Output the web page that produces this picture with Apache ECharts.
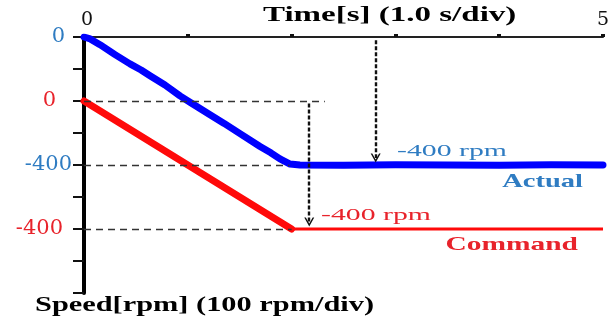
<!DOCTYPE html>
<html><head><meta charset="utf-8">
<script src="https://cdn.jsdelivr.net/npm/echarts@6/dist/echarts.min.js"></script>
<style>html,body{margin:0;padding:0;background:#fff}#c{width:613px;height:324px}</style>
</head><body><div id="c"></div>
<script>
// ---- data ----
const timeTickLabels = { 0: '0', 5: '5' };
const actualTime  = [0, 0.06, 0.154, 0.299, 0.443, 0.55, 0.636, 0.78, 0.925, 1.021, 1.214, 1.35, 1.503, 1.696, 1.8, 1.888, 1.985, 2.08, 2.5, 3.0, 3.5, 4.0, 4.5, 5.0];
const actualSpeed = [0, -6, -24, -55, -84, -103, -121, -150, -184, -204, -243, -270, -302, -342, -362, -381, -397, -400, -401, -399, -400, -401, -399, -400];
const commandRampTime  = [0, 2.0];
const commandRampSpeed = [0, -400];
const commandHoldTime  = [2.0, 5.0];
const commandHoldSpeed = [-400, -400];
const actualAxisLabels  = { '0': '0', '-400': '-400' };
const commandAxisLabels = { '0': '0', '-400': '-400' };
const actualTargetSpeed = -400;
const commandTargetSpeed = -400;
const actualArrowTime = 2.81;
const commandArrowTime = 2.17;
const commandZeroGuideEnd = 2.32;
const actualGuideEnd = 1.98;
const commandGuideEnd = 2.0;

const BLUE = '#0000ff', RED = '#ff0a0a';
const BLUE_TXT = '#2f7cc2', RED_TXT = '#e8232b';
const SERIF = '"Liberation Serif", "DejaVu Serif", serif';
const arrowPath = 'path://M0,10 L5,0 L10,10 L8.4,10 L5,3.2 L1.6,10 Z';

const zip = (a, b) => a.map((v, i) => [v, b[i]]);

const chart = echarts.init(document.getElementById('c'), null, { renderer: 'canvas' });
const dashGuide = { color: '#333', width: 1.4, type: [7, 5] };
const arrowStyle = { color: '#111', width: 2.4, type: [4, 2] };

chart.setOption({
  animation: false,
  backgroundColor: '#fff',
  grid: { left: 84, top: 37, width: 519, height: 256, containLabel: false },
  xAxis: {
    type: 'value', position: 'top', min: 0, max: 5, interval: 1,
    axisLine: { show: true, lineStyle: { color: '#222', width: 2 } },
    axisTick: { show: true, inside: false, length: 3, lineStyle: { color: '#111', width: 4 } },
    splitLine: { show: false },
    axisLabel: {
      margin: 7, color: '#111', fontFamily: 'DejaVu Serif', fontSize: 19,
      formatter: v => { const s = timeTickLabels[v] || ''; return s === '0' ? '{p|0}' : s; },
      rich: { p: { color: '#111', fontFamily: 'DejaVu Serif', fontSize: 19, padding: [0, 0, 0, 6] } },
      showMinLabel: true, showMaxLabel: true
    }
  },
  yAxis: [
    {
      type: 'value', min: -800, max: 0, interval: 100, position: 'left',
      axisLine: { show: true, onZero: false, lineStyle: { color: '#000', width: 4 } },
      axisTick: { show: true, length: 11, lineStyle: { color: '#111', width: 2 } },
      splitLine: { show: false },
      axisLabel: {
        margin: 12, color: BLUE_TXT, fontFamily: 'DejaVu Serif', fontSize: 21,
        formatter: v => { const s = actualAxisLabels[String(v)] || ''; return s === '0' ? '{z|0}' : s; },
        rich: { z: { color: BLUE_TXT, fontFamily: 'DejaVu Serif', fontSize: 21, padding: [0, 7, 0, 0] } }
      }
    },
    {
      type: 'value', min: -600, max: 200, interval: 100, position: 'left',
      axisLine: { show: false },
      axisTick: { show: false },
      splitLine: { show: false },
      axisLabel: {
        margin: 21, color: RED_TXT, fontFamily: 'DejaVu Serif', fontSize: 21,
        formatter: v => { const s = commandAxisLabels[String(v)] || ''; return s === '0' ? '{z|0}' : s; },
        rich: { z: { color: RED_TXT, fontFamily: 'DejaVu Serif', fontSize: 21, padding: [0, 7, 0, 0] } }
      }
    }
  ],
  series: [
    {
      name: 'guidesCommand', type: 'line', yAxisIndex: 1, data: [], z: 1, silent: true,
      markLine: {
        silent: true, animation: false, symbol: 'none', label: { show: false },
        emphasis: { disabled: true },
        data: [
          [{ coord: [0, 0], lineStyle: dashGuide }, { coord: [commandZeroGuideEnd, 0] }],
          [{ coord: [0, commandTargetSpeed], lineStyle: dashGuide }, { coord: [commandGuideEnd, commandTargetSpeed] }],
          [{ coord: [commandArrowTime, -8], lineStyle: arrowStyle, symbol: 'none' },
           { coord: [commandArrowTime, commandTargetSpeed + 22], symbol: arrowPath, symbolSize: [10, 9] }]
        ]
      }
    },
    {
      name: 'guidesActual', type: 'line', yAxisIndex: 0, data: [], z: 1, silent: true,
      markLine: {
        silent: true, animation: false, symbol: 'none', label: { show: false },
        emphasis: { disabled: true },
        data: [
          [{ coord: [0, actualTargetSpeed], lineStyle: dashGuide }, { coord: [actualGuideEnd, actualTargetSpeed] }],
          [{ coord: [actualArrowTime, -10], lineStyle: arrowStyle, symbol: 'none' },
           { coord: [actualArrowTime, actualTargetSpeed + 22], symbol: arrowPath, symbolSize: [10, 9] }]
        ]
      }
    },
    {
      name: 'Command', type: 'line', yAxisIndex: 1, z: 3, symbol: 'none',
      data: zip(commandRampTime, commandRampSpeed),
      lineStyle: { color: RED, width: 7, cap: 'round' }
    },
    {
      name: 'Command hold', type: 'line', yAxisIndex: 1, z: 3, symbol: 'none',
      data: zip(commandHoldTime, commandHoldSpeed),
      lineStyle: { color: RED, width: 3 }
    },
    {
      name: 'Actual', type: 'line', yAxisIndex: 0, z: 4, symbol: 'none',
      data: zip(actualTime, actualSpeed),
      lineStyle: { color: BLUE, width: 7, cap: 'round', join: 'round' }
    }
  ],
  graphic: [
    { type: 'text', x: 263, y: 15, scaleX: 1.5, silent: true,
      style: { text: 'Time[s] (1.0 s/div)', font: 'bold 22px ' + SERIF, fill: '#000', align: 'left', verticalAlign: 'middle' } },
    { type: 'text', x: 35, y: 305, scaleX: 1.38, silent: true,
      style: { text: 'Speed[rpm] (100 rpm/div)', font: 'bold 22px ' + SERIF, fill: '#000', align: 'left', verticalAlign: 'middle' } },
    { type: 'text', x: 397, y: 152, scaleX: 1.75, silent: true,
      style: { text: '-400 rpm', font: '17px ' + SERIF, fill: BLUE_TXT, align: 'left', verticalAlign: 'middle' } },
    { type: 'text', x: 583, y: 182, scaleX: 1.5, silent: true,
      style: { text: 'Actual', font: 'bold 19px ' + SERIF, fill: BLUE_TXT, align: 'right', verticalAlign: 'middle' } },
    { type: 'text', x: 321, y: 216, scaleX: 1.75, silent: true,
      style: { text: '-400 rpm', font: '17px ' + SERIF, fill: RED_TXT, align: 'left', verticalAlign: 'middle' } },
    { type: 'text', x: 578, y: 245, scaleX: 1.55, silent: true,
      style: { text: 'Command', font: 'bold 19px ' + SERIF, fill: RED_TXT, align: 'right', verticalAlign: 'middle' } }
  ]
});
</script>
</body></html>
